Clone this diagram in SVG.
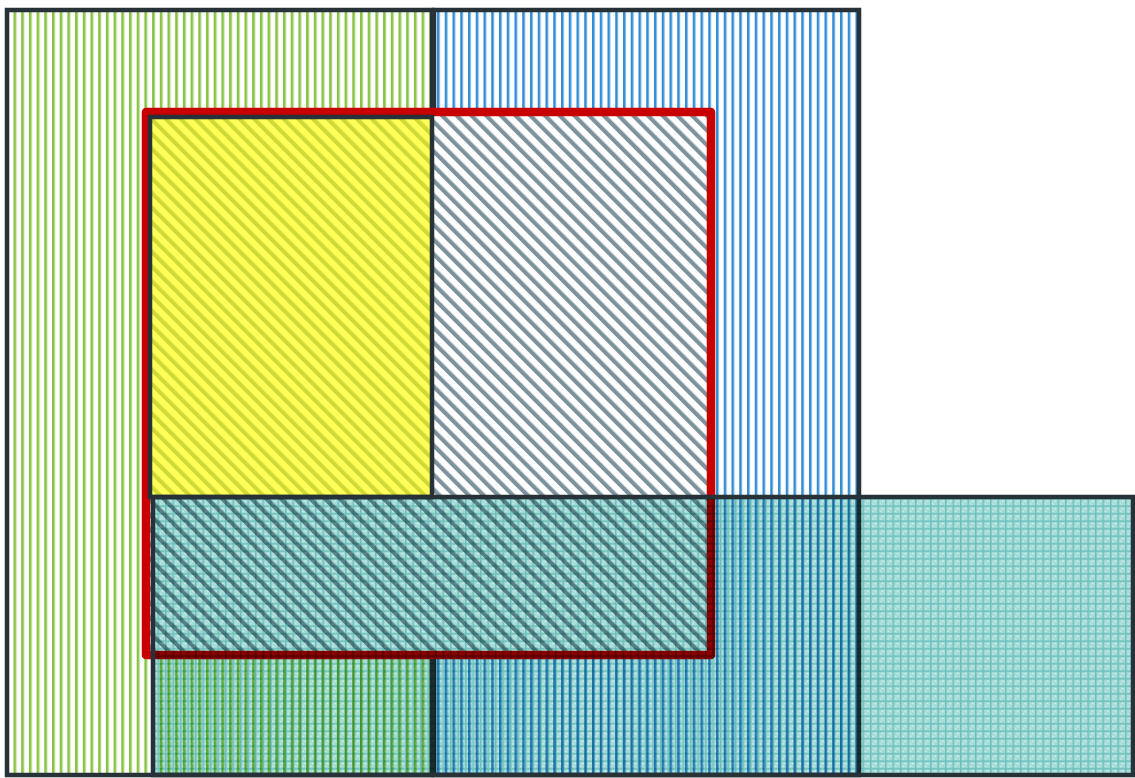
<svg xmlns="http://www.w3.org/2000/svg" width="1135" height="778" viewBox="0 0 1135 778">
<style>
.edge{stroke:#263238;stroke-width:4.5;}
.red{fill:url(#pHatch);stroke:#c80000;stroke-width:8.5;stroke-linejoin:round;}
.teal{mix-blend-mode:multiply;}
</style>
<defs>
<pattern id="pGreen" patternUnits="userSpaceOnUse" width="7.7" height="10">
<rect x="0" y="0" width="7.7" height="10" fill="#ffffff"/>
<rect x="5.8" y="0" width="1.9" height="10" fill="#86c240"/>
<rect x="0" y="0" width="1.2" height="10" fill="#acd67e"/>
</pattern>
<pattern id="pBlue" patternUnits="userSpaceOnUse" width="7.75" height="10" x="436">
<rect x="0" y="0" width="7.75" height="10" fill="#ffffff"/>
<rect x="1" y="0" width="1.9" height="10" fill="#2f8bd2"/>
<rect x="2.9" y="0" width="1.1" height="10" fill="#79b9e8"/>
</pattern>
<pattern id="pHatch" patternUnits="userSpaceOnUse" width="10.4" height="10.4" patternTransform="rotate(-45)">
<rect x="0" y="0" width="10.4" height="10.4" fill="#ffffff"/>
<rect x="0" y="0" width="4.2" height="10.4" fill="#7d929c"/>
</pattern>
<pattern id="pTeal" patternUnits="userSpaceOnUse" width="7.5" height="7.5">
<rect x="0" y="0" width="7.5" height="7.5" fill="#a9ddd9"/>
<rect x="0" y="0" width="1.5" height="7.5" fill="#6cc0bb"/>
<rect x="0" y="3" width="7.5" height="1.5" fill="#6cc0bb"/>
<rect x="4.5" y="5.5" width="1.5" height="1" fill="#e6f5f4"/>
<rect x="2.5" y="1" width="1" height="1" fill="#e6f5f4"/>
<rect x="5.5" y="1" width="1" height="1" fill="#8fd0cb"/>
</pattern>
</defs>
<rect x="0" y="0" width="1135" height="778" fill="#ffffff"/>
<g id="node-green">
<rect class="edge" x="7" y="10" width="425" height="765" fill="url(#pGreen)"/>
</g>
<g id="node-blue">
<rect class="edge" x="434" y="10" width="425" height="765" fill="url(#pBlue)"/>
</g>
<g id="node-red">
<rect class="red" x="146" y="112" width="565" height="543"/>
</g>
<g id="node-yellow">
<rect class="edge" x="150" y="117" width="282" height="380" fill="#ffff00" fill-opacity="0.65"/>
</g>
<g id="node-teal">
<rect class="teal" x="153" y="497" width="980" height="278" fill="url(#pTeal)"/>
<rect class="edge" x="153" y="497" width="980" height="278" fill="none"/>
</g>
<g id="connectors"></g>
</svg>
